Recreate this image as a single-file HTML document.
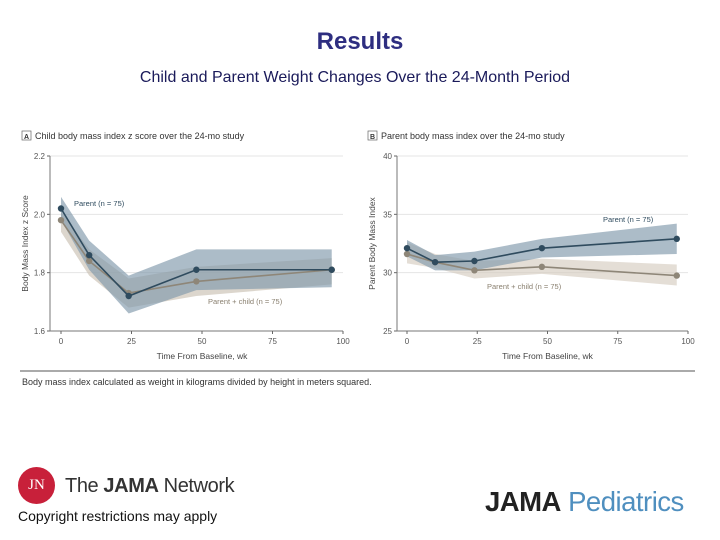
<!DOCTYPE html>
<html><head><meta charset="utf-8"><style>
body{margin:0;width:720px;height:540px;background:#fff;overflow:hidden;font-family:"Liberation Sans",sans-serif;position:relative}
.abs{position:absolute;white-space:nowrap}
</style></head><body>
<div class="abs" style="left:0;width:720px;text-align:center;top:28px;font-size:24px;font-weight:bold;color:#2e2e80">Results</div>
<div class="abs" style="left:0;width:710px;text-align:center;top:69px;font-size:16px;color:#1a1a5a">Child and Parent Weight Changes Over the 24-Month Period</div>
<svg id="chart" width="720" height="400" style="position:absolute;left:0;top:0" font-family="Liberation Sans, sans-serif"></svg>
<div class="abs" style="left:22px;top:377px;font-size:9px;color:#333">Body mass index calculated as weight in kilograms divided by height in meters squared.</div>
<div class="abs" style="left:18px;top:467px;width:37px;height:37px;border-radius:50%;background:#c8203a;color:#fff;font-size:15px;text-align:center;line-height:37px;font-family:'Liberation Serif',serif">JN</div>
<div class="abs" style="left:65px;top:475px;font-size:20px;letter-spacing:-0.4px;color:#333">The <b>JAMA</b> Network</div>
<div class="abs" style="left:18px;top:508px;font-size:14px;color:#111">Copyright restrictions may apply</div>
<div class="abs" style="left:485px;top:486px;font-size:27.5px;letter-spacing:-0.5px"><b style="color:#222">JAMA</b> <span style="color:#4f8fbf">Pediatrics</span></div>
<script>
const weeks=[0,10,24,48,96];
const aParent=[2.02,1.86,1.72,1.81,1.81];
const aParentHi=[2.06,1.91,1.79,1.88,1.88];
const aParentLo=[1.98,1.81,1.66,1.74,1.75];
const aPC=[1.98,1.84,1.73,1.77,1.81];
const aPCHi=[2.01,1.88,1.78,1.82,1.85];
const aPCLo=[1.94,1.79,1.68,1.72,1.76];
const bParent=[32.1,30.9,31.0,32.1,32.9];
const bParentHi=[32.8,31.5,31.8,32.9,34.2];
const bParentLo=[31.4,30.2,30.2,31.3,31.6];
const bPC=[31.6,30.9,30.2,30.5,29.75];
const bPCHi=[32.6,31.6,31.0,31.2,30.7];
const bPCLo=[30.8,30.4,29.5,29.9,28.9];
const xTicks=[0,25,50,75,100];
const aYTicks=["1.6","1.8","2.0","2.2"];
const bYTicks=["25","30","35","40"];
const svg=document.getElementById('chart');
const NS='http://www.w3.org/2000/svg';
function mk(t,a,txt){const e=document.createElementNS(NS,t);for(const k in a)e.setAttribute(k,a[k]);if(txt!==undefined)e.textContent=txt;svg.appendChild(e);return e;}
function panel(p){
 const X=v=>p.x0+(v/100)*(p.x1-p.x0);
 const Y=v=>p.yb+(v-p.ymin)/(p.ymax-p.ymin)*(p.yt-p.yb);
 let e=mk('rect',{x:p.lx,y:131,width:9,height:9,fill:'#fff',stroke:'#666','stroke-width':0.7});
 
 e=mk('text',{x:p.lx+4.5,y:139,'font-size':7,'font-weight':'bold','text-anchor':'middle',fill:'#333'},p.letter);
 
 e=mk('text',{x:p.lx+13,y:139,'font-size':9,fill:'#333'},p.title);
 
 p.yticks.forEach(t=>{const y=Y(+t);
  e=mk('line',{x1:p.ax,x2:p.x1,y1:y,y2:y,stroke:'#e4e4e4','stroke-width':1});
  
  e=mk('line',{x1:p.ax-3,x2:p.ax,y1:y,y2:y,stroke:'#666'});
  
  e=mk('text',{x:p.ax-5,y:y+3,'font-size':8,'text-anchor':'end',fill:'#555'},t);
  });
 e=mk('line',{x1:p.ax,x2:p.ax,y1:p.yt,y2:p.yb,stroke:'#777'});
 
 e=mk('line',{x1:p.ax,x2:p.x1,y1:p.yb,y2:p.yb,stroke:'#777'});
 
 xTicks.forEach(t=>{const x=X(t);
  e=mk('line',{x1:x,x2:x,y1:p.yb,y2:p.yb+3,stroke:'#666'});
  
  e=mk('text',{x:x,y:p.yb+13,'font-size':8,'text-anchor':'middle',fill:'#555'},t);
  });
 e=mk('text',{x:(p.x0+p.x1)/2,y:p.yb+28,'font-size':8.5,'text-anchor':'middle',fill:'#444'},'Time From Baseline, wk');
 
 const cy=(p.yt+p.yb)/2;
 e=mk('text',{x:p.ax-22,y:cy,'font-size':8.5,'text-anchor':'middle',fill:'#444',transform:`rotate(-90 ${p.ax-22} ${cy})`},p.ytitle);
 
 p.series.forEach(s=>{
  const up=weeks.map((w,i)=>X(w)+','+Y(s.hi[i])).join(' ');
  const dn=weeks.map((w,i)=>X(w)+','+Y(s.lo[i])).reverse().join(' ');
  e=mk('polygon',{points:up+' '+dn,fill:s.band,'fill-opacity':0.65});
  });
 p.series.forEach(s=>{
  e=mk('polyline',{points:weeks.map((w,i)=>X(w)+','+Y(s.v[i])).join(' '),fill:'none',stroke:s.c,'stroke-width':1.6});
  
  weeks.forEach((w,i)=>{e=mk('circle',{cx:X(w),cy:Y(s.v[i]),r:3.2,fill:s.c});
   });
  e=mk('text',{x:s.lx,y:s.ly,'font-size':7.5,fill:s.tc},s.label);
  });
}
panel({id:'a',letter:'A',lx:22,title:'Child body mass index z score over the 24-mo study',x0:61,x1:343,ax:50,yt:156,yb:331,ymin:1.6,ymax:2.2,yticks:aYTicks,ytitle:'Body Mass Index z Score',
 series:[{id:'parent-child',v:aPC,hi:aPCHi,lo:aPCLo,c:'#8e8678',band:'#c9c0b2',tc:'#8a8070',label:'Parent + child (n = 75)',lx:208,ly:304},
         {id:'parent',v:aParent,hi:aParentHi,lo:aParentLo,c:'#2f4b5e',band:'#7f98aa',tc:'#2f4b5e',label:'Parent (n = 75)',lx:74,ly:206}]});
panel({id:'b',letter:'B',lx:368,title:'Parent body mass index over the 24-mo study',x0:407,x1:688,ax:397,yt:156,yb:331,ymin:25,ymax:40,yticks:bYTicks,ytitle:'Parent Body Mass Index',
 series:[{id:'parent-child',v:bPC,hi:bPCHi,lo:bPCLo,c:'#8e8678',band:'#d5cdc0',tc:'#8a8070',label:'Parent + child (n = 75)',lx:487,ly:289},
         {id:'parent',v:bParent,hi:bParentHi,lo:bParentLo,c:'#2f4b5e',band:'#7f98aa',tc:'#2f4b5e',label:'Parent (n = 75)',lx:603,ly:222}]});
const hr=mk('line',{x1:20,x2:695,y1:371,y2:371,stroke:'#555','stroke-width':1});


</script>
</body></html>
